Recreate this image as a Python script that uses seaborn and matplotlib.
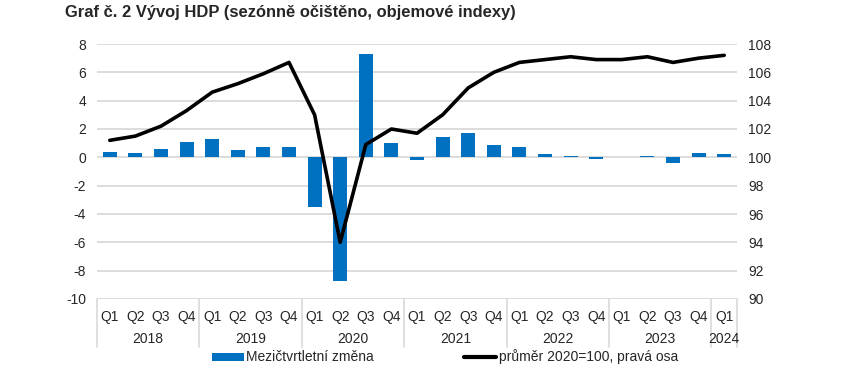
import numpy as np
import pandas as pd
import matplotlib
matplotlib.use("Agg")
import matplotlib.pyplot as plt
import matplotlib.transforms as mtransforms
from matplotlib.lines import Line2D
from matplotlib.patches import Patch
import seaborn as sns

years = ["2018", "2019", "2020", "2021", "2022", "2023", "2024"]
quarters = ["Q1", "Q2", "Q3", "Q4"]
# mezičtvrtletní změna (%), levá osa
qoq_change = [0.4, 0.3, 0.6, 1.1, 1.3, 0.5, 0.7, 0.7,
              -3.5, -8.7, 7.3, 1.0, -0.2, 1.4, 1.7, 0.9,
              0.7, 0.2, 0.1, -0.1, 0.02, 0.1, -0.4, 0.3, 0.2]
# objemový index, průměr 2020=100, pravá osa
volume_index = [101.2, 101.5, 102.2, 103.3, 104.6, 105.2, 105.9, 106.7,
                103.0, 94.0, 100.9, 102.0, 101.7, 103.0, 104.9, 106.0,
                106.7, 106.9, 107.1, 106.9, 106.9, 107.1, 106.7, 107.0, 107.2]

n = len(qoq_change)
q_labels = [q for y in years for q in quarters][:n]
periods = [f"{y} {q}" for y in years for q in quarters][:n]
df = pd.DataFrame({"period": periods, "qoq": qoq_change,
                   "pos": np.arange(n), "index": volume_index})

BLUE = "#0070C0"
GRID = "#D9D9D9"

sns.set_style("white")
plt.rcParams["font.family"] = ["Liberation Sans", "DejaVu Sans"]
plt.rcParams["axes.unicode_minus"] = False

fig = plt.figure(figsize=(8.55, 3.83), dpi=100)
ax = fig.add_axes([97 / 855, 1 - 299 / 383, 640 / 855, 255 / 383])

sns.barplot(data=df, x="period", y="qoq", color=BLUE, saturation=1,
            width=0.55, linewidth=0, ax=ax)
ax.set_ylim(-10, 8)
ax.set_yticks(range(-10, 9, 2))
ax.set_xlim(-0.5, n - 0.5)
ax.set_xticks(range(n))
ax.set_xticklabels(q_labels)
ax.set_xlabel("")
ax.set_ylabel("")
ax.yaxis.grid(True, color=GRID, linewidth=1.3)
ax.set_axisbelow(True)
for s in ax.spines.values():
    s.set_visible(False)
ax.tick_params(axis="y", length=0, labelsize=10, pad=8)
ax.tick_params(axis="x", length=0, labelsize=10, pad=8)

ax2 = ax.twinx()
sns.lineplot(data=df, x="pos", y="index", color="black", linewidth=2.6, ax=ax2)
ax2.set_ylim(90, 108)
ax2.set_yticks(range(90, 109, 2))
ax2.set_ylabel("")
ax2.set_xlim(-0.5, n - 0.5)
for s in ax2.spines.values():
    s.set_visible(False)
ax2.tick_params(axis="y", length=0, labelsize=10, pad=8)

# dvouúrovňová kategorie: oddělovače a roky
trans = mtransforms.blended_transform_factory(ax.transData, ax.transAxes)
seps = [-0.5] + [i * 4 - 0.5 for i in range(1, len(years))] + [n - 0.5]
for x in seps:
    ax.plot([x, x], [0, -0.188], color=GRID, lw=1.2, transform=trans, clip_on=False)
for i, y in enumerate(years):
    start = i * 4
    end = min(start + 4, n)
    ax.text((start + end - 1) / 2, -0.157, y, transform=trans, ha="center",
            va="center", fontsize=10)

handles = [Patch(facecolor=BLUE, edgecolor="none"),
           Line2D([0], [0], color="black", lw=3)]
fig.legend(handles, ["Mezičtvrtletní změna", "průměr 2020=100, pravá osa"],
           loc="center", bbox_to_anchor=(445 / 855, 1 - 357 / 383), ncol=2,
           frameon=False, fontsize=10, handlelength=2.3, handleheight=0.5,
           handletextpad=0.2, columnspacing=6.5)

fig.text(65 / 855, 1 - 13 / 383, "Graf č. 2 Vývoj HDP (sezónně očištěno, objemové indexy)",
         fontsize=11.9, fontweight="bold", ha="left", va="center")

fig.savefig("out.png", dpi=100)
